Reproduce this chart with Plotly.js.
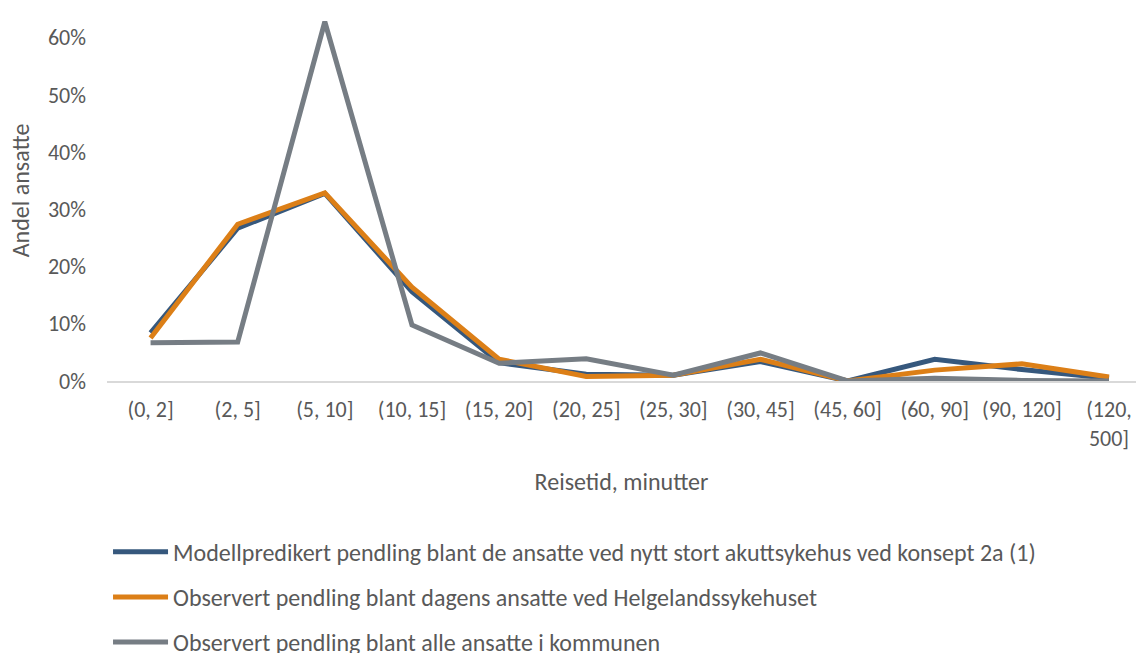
<!DOCTYPE html>
<html>
<head>
<meta charset="utf-8">
<script src="https://cdn.plot.ly/plotly-3.0.1.min.js"></script>
<style>html,body{margin:0;padding:0;background:#fff;}#chart{width:1136px;height:653px;}</style>
</head>
<body>
<div id="chart"></div>
<script>
const categories = ["(0, 2]", "(2, 5]", "(5, 10]", "(10, 15]", "(15, 20]", "(20, 25]", "(25, 30]", "(30, 45]", "(45, 60]", "(60, 90]", "(90, 120]", "(120,<br>500]"];
const seriesNames = [
  "Modellpredikert pendling blant de ansatte ved nytt stort akuttsykehus ved konsept 2a (1)",
  "Observert pendling blant dagens ansatte ved Helgelandssykehuset",
  "Observert pendling blant alle ansatte i kommunen"
];
const modell = [0.084, 0.267, 0.328, 0.156, 0.032, 0.012, 0.010, 0.034, 0.000, 0.038, 0.020, 0.005];
const helgeland = [0.075, 0.274, 0.329, 0.164, 0.038, 0.008, 0.010, 0.038, 0.000, 0.019, 0.030, 0.007];
const kommunen = [0.067, 0.068, 0.628, 0.098, 0.031, 0.039, 0.010, 0.049, 0.000, 0.005, 0.001, 0.000];
const colors = ["#36587d", "#dc7f17", "#767d84"];

const x = categories.map((c, i) => i);
const seriesVals = [modell, helgeland, kommunen];
const traces = seriesVals.map((v, k) => ({
  type: "scatter",
  mode: "lines",
  x: x,
  y: v,
  name: seriesNames[k],
  legendgroup: "g" + k,
  line: {color: colors[k], width: 5, shape: "linear"},
  hoverinfo: "skip"
}));

const fontFam = "Carlito, Lato, 'Open Sans', sans-serif";
const layout = {
  width: 1136,
  height: 653,
  margin: {l: 107, r: 0, t: 0, b: 272, autoexpand: false},
  paper_bgcolor: "#ffffff",
  plot_bgcolor: "#ffffff",
  font: {family: fontFam, color: "#595959", size: 22},
  showlegend: true,
  legend: {
    x: 0.001, y: -0.39, xanchor: "left", yanchor: "top",
    orientation: "v",
    font: {size: 24, color: "#595959"},
    tracegroupgap: 11,
    itemwidth: 55,
    bgcolor: "rgba(0,0,0,0)"
  },
  xaxis: {
    tickmode: "array",
    tickvals: x,
    ticktext: categories,
    range: [-0.5, 11.31],
    showgrid: false,
    zeroline: false,
    showline: true,
    linecolor: "#d9d9d9",
    linewidth: 1.5,
    ticks: "",
    tickfont: {size: 22, color: "#595959"},
    ticklabelstandoff: 8,
    automargin: false,
    title: {text: "Reisetid, minutter", font: {size: 24, color: "#595959"}, standoff: 22},
    fixedrange: true
  },
  yaxis: {
    range: [0, 0.666],
    tickvals: [0, 0.1, 0.2, 0.3, 0.4, 0.5, 0.6],
    tickformat: ".0%",
    showgrid: false,
    zeroline: false,
    showline: false,
    ticks: "",
    tickfont: {size: 22, color: "#595959"},
    ticklabelstandoff: 20,
    automargin: false,
    title: {text: "Andel ansatte", font: {size: 24, color: "#595959"}, standoff: 11},
    fixedrange: true
  }
};

Plotly.newPlot("chart", traces, layout, {displayModeBar: false, staticPlot: true});
</script>
</body>
</html>
